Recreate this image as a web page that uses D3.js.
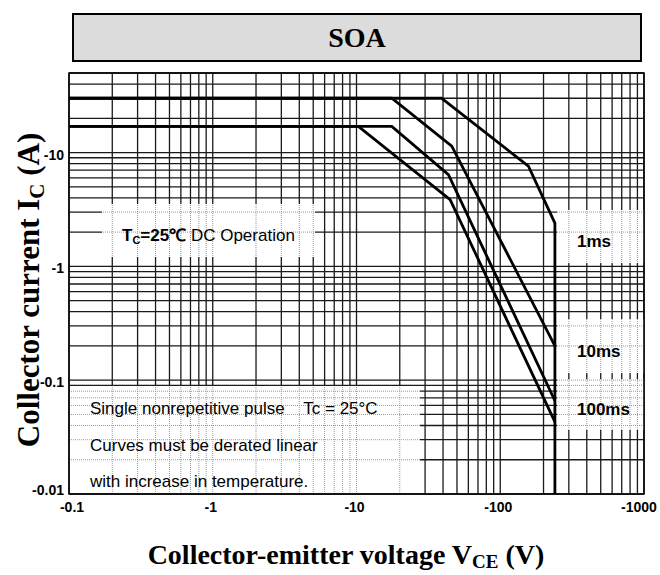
<!DOCTYPE html>
<html>
<head>
<meta charset="utf-8">
<script src="https://cdn.jsdelivr.net/npm/d3@7"></script>
<style>
  html, body { margin: 0; padding: 0; background: #fff; }
  svg { display: block; }
</style>
</head>
<body>
<svg id="chart" width="660" height="575"></svg>
<script>
// ---------------- data ----------------
const xTickValues = [0.1, 1, 10, 100, 1000];
const xTickLabels = ["-0.1", "-1", "-10", "-100", "-1000"];
const yTickValues = [0.01, 0.1, 1, 10];
const yTickLabels = ["-0.01", "-0.1", "-1", "-10"];

// |VCE| (V) and |IC| (A) break points of each SOA curve
const v1ms   = [0.1, 39, 157, 240, 240];
const i1ms   = [30, 30, 7.6, 2.4, 0.01];
const v10ms  = [0.1, 17.6, 46, 240];
const i10ms  = [30, 30, 11.4, 0.2];
const v100ms = [0.1, 17.6, 43.6, 240];
const i100ms = [17, 17, 6.4, 0.066];
const vDC    = [0.1, 10.3, 44.8, 240];
const iDC    = [17, 17, 3.86, 0.043];

const curveLabels = ["1ms", "10ms", "100ms"];

// ---------------- layout ----------------
const svg = d3.select("#chart");
const L = 69, R = 644, T = 73, B = 494;
const x = d3.scaleLog().domain([0.1, 1000]).range([L, R]);
const y = d3.scaleLog().domain([0.01, 50]).range([B, T]);

// title box
svg.append("rect").attr("x", 73).attr("y", 14).attr("width", 568).attr("height", 47)
  .attr("fill", "#dcdcdc").attr("stroke", "#000").attr("stroke-width", 2);
svg.append("text").attr("x", 357).attr("y", 47).attr("text-anchor", "middle")
  .attr("font-family", "'Liberation Serif','Times New Roman',serif").attr("font-weight", "bold")
  .attr("font-size", 28).text("SOA");

// grid values
const xGrid = [];
for (let d = -1; d < 3; d++) for (let k = 1; k <= 9; k++) xGrid.push(k * Math.pow(10, d));
xGrid.push(1000);
const yGrid = [];
for (let d = -2; d < 2; d++) for (let k = 1; k <= 9; k++) { const v = k * Math.pow(10, d); if (v <= 50) yGrid.push(v); }

function drawGrid(g, color, width, dash) {
  g.selectAll("line.gx").data(xGrid).enter().append("line")
    .attr("x1", d => x(d)).attr("x2", d => x(d)).attr("y1", T).attr("y2", B)
    .attr("stroke", color).attr("stroke-width", width).attr("stroke-dasharray", dash);
  g.selectAll("line.gy").data(yGrid).enter().append("line")
    .attr("x1", L).attr("x2", R).attr("y1", d => y(d)).attr("y2", d => y(d))
    .attr("stroke", color).attr("stroke-width", width).attr("stroke-dasharray", dash);
}

drawGrid(svg.append("g"), "#1a1a1a", 1.3, null);

// annotation boxes (white with dotted grid inside)
const boxes = [
  {x0: 102, y0: 204, x1: 315, y1: 257},
  {x0: 557, y0: 210, x1: 644, y1: 263},
  {x0: 557, y0: 319, x1: 644, y1: 373},
  {x0: 557, y0: 379, x1: 644, y1: 430},
  {x0: 70,  y0: 386, x1: 420, y1: 493}
];
const defs = svg.append("defs");
boxes.forEach((b, i) => {
  defs.append("clipPath").attr("id", "clip" + i).append("rect")
    .attr("x", b.x0).attr("y", b.y0).attr("width", b.x1 - b.x0).attr("height", b.y1 - b.y0);
  svg.append("rect").attr("x", b.x0).attr("y", b.y0).attr("width", b.x1 - b.x0).attr("height", b.y1 - b.y0)
    .attr("fill", "#fff");
  drawGrid(svg.append("g").attr("clip-path", "url(#clip" + i + ")"), "#9a9a9a", 1, "1,1");
});

// plot border
svg.append("rect").attr("x", L).attr("y", T).attr("width", R - L).attr("height", B - T)
  .attr("fill", "none").attr("stroke", "#000").attr("stroke-width", 1.5);

// curves
const line = d3.line().x(d => x(d[0])).y(d => y(d[1]));
[[v1ms, i1ms], [v10ms, i10ms], [v100ms, i100ms], [vDC, iDC]].forEach(([vs, is]) => {
  svg.append("path").datum(d3.zip(vs, is)).attr("d", line)
    .attr("fill", "none").attr("stroke", "#000").attr("stroke-width", 2.8)
    .attr("stroke-linejoin", "miter");
});

// tick labels
const tickFont = "'Liberation Sans',Arial,sans-serif";
svg.selectAll("text.xt").data(xTickValues).enter().append("text")
  .attr("x", (d, i) => x(d) + (i === 0 ? 3 : (i === 4 ? -5 : -2)))
  .attr("y", 512).attr("text-anchor", "middle")
  .attr("font-family", tickFont).attr("font-weight", "bold").attr("font-size", 14)
  .text((d, i) => xTickLabels[i]);
svg.selectAll("text.yt").data(yTickValues).enter().append("text")
  .attr("x", 64).attr("y", (d, i) => y(d) + 5 + (i === 0 ? -4 : 2))
  .attr("text-anchor", "end")
  .attr("font-family", tickFont).attr("font-weight", "bold").attr("font-size", 14)
  .text((d, i) => yTickLabels[i]);

// axis titles
const serif = "'Liberation Serif','Times New Roman',serif";
const xt = svg.append("text").attr("x", 346).attr("y", 564).attr("text-anchor", "middle")
  .attr("font-family", serif).attr("font-weight", "bold").attr("font-size", 28);
xt.append("tspan").text("Collector-emitter voltage V");
xt.append("tspan").attr("font-size", 19).attr("dy", 4).text("CE");
xt.append("tspan").attr("dy", -4).text(" (V)");

const yt = svg.append("text").attr("transform", "translate(39,290) rotate(-90)")
  .attr("text-anchor", "middle")
  .attr("font-family", serif).attr("font-weight", "bold").attr("font-size", 31);
yt.append("tspan").text("Collector current I");
yt.append("tspan").attr("font-size", 21).attr("dy", 5).text("C");
yt.append("tspan").attr("dy", -5).text(" (A)");

// annotations
const sans = "Arial,'Liberation Sans',sans-serif";
const dc = svg.append("text").attr("x", 122).attr("y", 241)
  .attr("font-family", sans).attr("font-size", 17);
dc.append("tspan").attr("font-weight", "bold").text("T");
dc.append("tspan").attr("font-weight", "bold").attr("font-size", 11).attr("dy", 3).text("C");
dc.append("tspan").attr("font-weight", "bold").attr("dy", -3).text("=25℃");
dc.append("tspan").text(" DC Operation");

const labelY = [247, 357, 415];
curveLabels.forEach((t, i) => {
  svg.append("text").attr("x", 577).attr("y", labelY[i])
    .attr("font-family", sans).attr("font-weight", "bold").attr("font-size", 17).text(t);
});

const notes = ["Single nonrepetitive pulse    Tc = 25°C", "Curves must be derated linear", "with increase in temperature."];
const notesY = [414, 451, 487];
notes.forEach((t, i) => {
  svg.append("text").attr("x", 90).attr("y", notesY[i]).attr("xml:space", "preserve")
    .style("white-space", "pre")
    .attr("font-family", sans).attr("font-size", 17).text(t);
});
</script>
</body>
</html>
